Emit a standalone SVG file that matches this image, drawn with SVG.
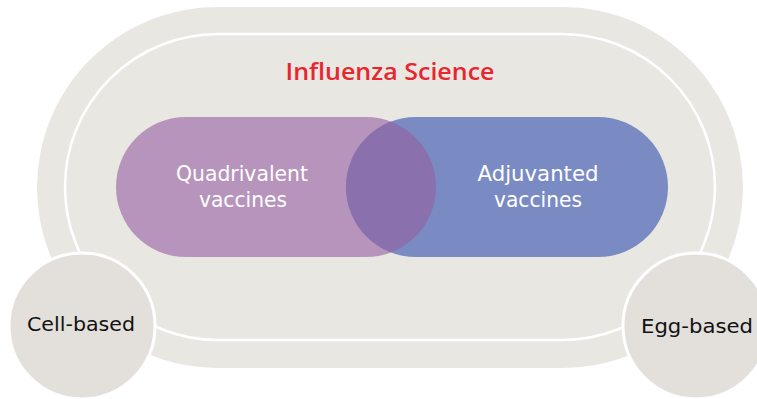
<svg xmlns="http://www.w3.org/2000/svg" width="757" height="399" viewBox="0 0 757 399">
<style>
.lbl{font-family:"DejaVu Sans","Liberation Sans",sans-serif;font-size:20.5px;fill:#ffffff;text-anchor:middle}
.clbl{font-family:"DejaVu Sans","Liberation Sans",sans-serif;font-size:20px;fill:#111111;text-anchor:middle}
.title{font-family:"Open Sans","Liberation Sans",sans-serif;font-size:23px;font-weight:600;fill:#e8262e;text-anchor:middle}
.node{stroke:#ffffff;stroke-width:3;fill:#e3e0dc}
</style>
<defs>
<clipPath id="purpleClip"><rect x="116" y="117" width="320" height="140" rx="70"/></clipPath>
</defs>
<g id="influenza-science">
<rect x="37" y="7" width="706" height="361" rx="180.5" fill="#e9e7e2"/>
<rect x="65" y="34" width="650" height="306" rx="153" fill="#e9e7e2" stroke="#ffffff" stroke-width="2.5"/>
<text class="title" x="390" y="80" textLength="209" lengthAdjust="spacingAndGlyphs">Influenza Science</text>
</g>
<g id="quadrivalent">
<rect x="116" y="117" width="320" height="140" rx="70" fill="#b794bc"/>
</g>
<g id="adjuvanted">
<rect x="346" y="117" width="322" height="140" rx="70" fill="#7a8bc4"/>
</g>
<g id="overlap">
<rect x="346" y="117" width="322" height="140" rx="70" fill="#8b70ae" clip-path="url(#purpleClip)"/>
</g>
<g id="labels">
<text class="lbl" x="242" y="181" textLength="132" lengthAdjust="spacingAndGlyphs">Quadrivalent</text>
<text class="lbl" x="243" y="207" textLength="88" lengthAdjust="spacingAndGlyphs">vaccines</text>
<text class="lbl" x="538" y="181" textLength="121" lengthAdjust="spacingAndGlyphs">Adjuvanted</text>
<text class="lbl" x="538" y="207" textLength="88" lengthAdjust="spacingAndGlyphs">vaccines</text>
</g>
<g id="connectors"></g>
<g id="cell-based">
<circle class="node" cx="82" cy="326" r="73"/>
<text class="clbl" x="81" y="331" textLength="108" lengthAdjust="spacingAndGlyphs">Cell-based</text>
</g>
<g id="egg-based">
<circle class="node" cx="696" cy="326" r="73"/>
<text class="clbl" x="697" y="333" textLength="112" lengthAdjust="spacingAndGlyphs">Egg-based</text>
</g>
</svg>
